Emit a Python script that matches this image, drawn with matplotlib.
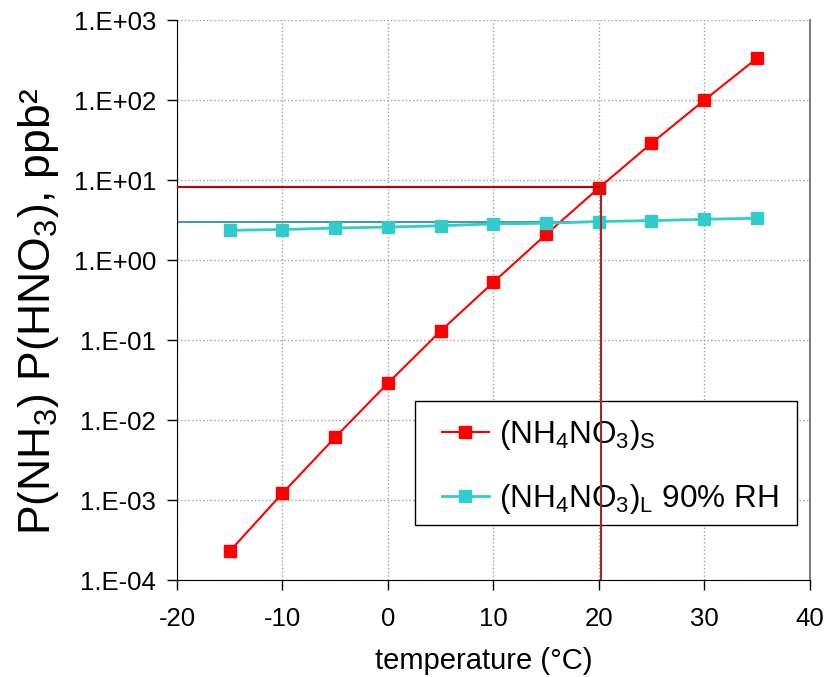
import numpy as np
import matplotlib
matplotlib.use("Agg")
import matplotlib.pyplot as plt
from matplotlib.patches import Rectangle
from matplotlib.ticker import FixedLocator, FuncFormatter, NullLocator

plt.rcParams["font.family"] = ["Liberation Sans", "DejaVu Sans"]
plt.rcParams["mathtext.fontset"] = "custom"
plt.rcParams["mathtext.rm"] = "Liberation Sans"
plt.rcParams["mathtext.it"] = "Liberation Sans"
plt.rcParams["mathtext.default"] = "regular"
plt.rcParams["axes.unicode_minus"] = False

# --- data ---
temperature = [-15, -10, -5, 0, 5, 10, 15, 20, 25, 30, 35]
solid = [2.3e-4, 1.22e-3, 6.1e-3, 0.029, 0.13, 0.53, 2.1, 8.0, 29, 100, 335]
liquid_90rh = [2.37, 2.42, 2.53, 2.6, 2.7, 2.85, 2.9, 3.05, 3.13, 3.25, 3.35]

x_ticks = [-20, -10, 0, 10, 20, 30, 40]
y_ticks = [1e-4, 1e-3, 1e-2, 1e-1, 1e0, 1e1, 1e2, 1e3]

# guide lines: crossing point of the two curves
cross_t = 20.25
cross_solid = 8.2
cross_liquid = 3.05


def sci_label(v, pos):
    e = int(round(np.log10(v)))
    return "1.E%s%02d" % ("+" if e >= 0 else "-", abs(e))


fig = plt.figure(figsize=(8.27, 6.77), dpi=100)
ax = fig.add_axes([0.214, 0.143, 0.765, 0.827])

ax.set_yscale("log")
ax.set_xlim(-20, 40)
ax.set_ylim(1e-4, 1e3)

ax.plot(temperature, solid, color="#ff0000", lw=1.5, marker="s", ms=8.5,
        label=r"(NH$_4$NO$_3$)$_S$", zorder=3)
ax.plot(temperature, liquid_90rh, color="#33cccc", lw=2, marker="s", ms=8.5,
        label=r"(NH$_4$NO$_3$)$_L$ 90% RH", zorder=3)

# guide lines
ax.plot([-20, cross_t], [cross_solid, cross_solid], color="#c00000", lw=1.5, zorder=4)
ax.plot([cross_t, cross_t], [1e-4, cross_solid], color="#b22222", lw=1.5, zorder=6)
ax.plot([-20, cross_t], [cross_liquid, cross_liquid], color="#4a9aa0", lw=1.5, zorder=2)

ax.xaxis.set_major_locator(FixedLocator(x_ticks))
ax.yaxis.set_major_locator(FixedLocator(y_ticks))
ax.yaxis.set_minor_locator(NullLocator())
ax.yaxis.set_major_formatter(FuncFormatter(sci_label))
ax.grid(True, color="#a0a0a0", ls=":", lw=1)
ax.set_axisbelow(True)

ax.tick_params(labelsize=18.5, direction="out", length=7, width=1, pad=8)
ax.tick_params(axis="x", pad=12)
ax.spines["top"].set_visible(False)
ax.spines["right"].set_color("#808080")
ax.spines["right"].set_linewidth(1.5)

ax.set_xlabel("temperature (°C)", fontsize=21)
ax.xaxis.set_label_coords(0.485, -0.12)
ax.set_ylabel(r"P(NH$_3$) P(HNO$_3$), ppb²", fontsize=32)
ax.yaxis.set_label_coords(-0.183, 0.48)

# legend box drawn separately so its padding can match the reference
ax.add_patch(Rectangle((0.376, 0.098), 0.6035, 0.2214, transform=ax.transAxes,
                       facecolor="white", edgecolor="black", lw=1, zorder=4.5))
leg = ax.legend(loc="upper left", bbox_to_anchor=(0.4186, 0.290), fontsize=22.7,
                frameon=False, borderpad=0, borderaxespad=0, handlelength=1.5,
                labelspacing=0.95, handletextpad=0.3)
leg.set_zorder(5)

fig.savefig("out.png", dpi=100)
